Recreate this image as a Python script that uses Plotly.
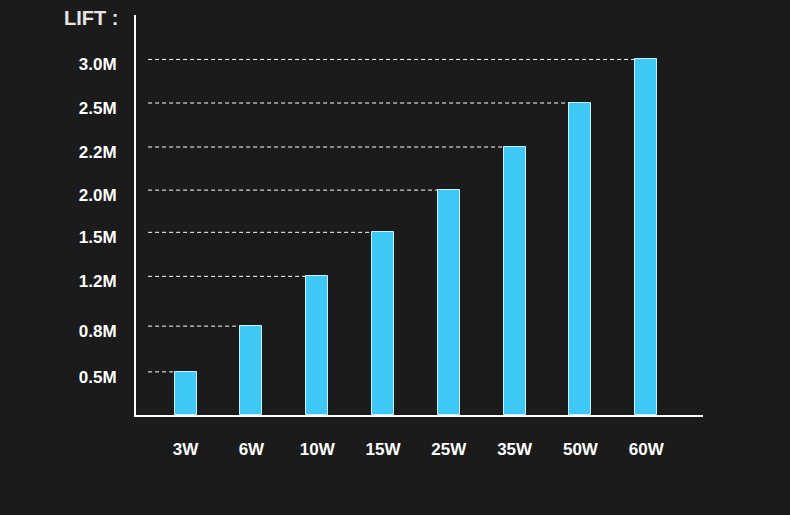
import plotly.graph_objects as go

# Data
power = ["3W", "6W", "10W", "15W", "25W", "35W", "50W", "60W"]
lift_labels = ["0.5M", "0.8M", "1.2M", "1.5M", "2.0M", "2.2M", "2.5M", "3.0M"]
# bar heights on the chart's (evenly stepped) lift scale
lift_level = [0.97, 2.0, 3.12, 4.11, 5.06, 6.03, 7.02, 8.0]

BG = "#1b1b1b"
BAR = "#3ec8f6"
BAR_W = 0.334
FONT = "Liberation Sans, Arial"

fig = go.Figure()
fig.add_trace(go.Bar(
    x=list(range(len(power))), y=lift_level, width=BAR_W,
    marker=dict(color=BAR, line=dict(color="#c8f2ff", width=1)),
    hoverinfo="skip",
))

# dashed guide lines from y-axis to the top of each bar
for i, h in enumerate(lift_level):
    fig.add_shape(type="line", xref="x", yref="y",
                  x0=-0.57, x1=i - BAR_W / 2, y0=h, y1=h,
                  line=dict(color="white", width=1, dash="4px,3px"))

fig.add_annotation(text="LIFT :", xref="paper", yref="paper", x=-0.0277, y=0.9925,
                   xanchor="right", yanchor="middle", showarrow=False,
                   font=dict(family=FONT, size=20, color="#e6e6e6", weight="bold"))

fig.update_layout(
    width=790, height=515,
    paper_bgcolor=BG, plot_bgcolor=BG,
    margin=dict(l=136, r=87, t=15, b=100),
    showlegend=False,
    bargap=0,
    xaxis=dict(
        range=[-0.754, 7.863],
        tickmode="array", tickvals=list(range(len(power))), ticktext=power,
        showgrid=False, zeroline=False, showline=True, linecolor="white", linewidth=2,
        ticks="", ticklabelstandoff=18,
        tickfont=dict(family=FONT, size=17, color="white", weight="bold"),
    ),
    yaxis=dict(
        range=[0, 9.0],
        tickmode="array", tickvals=lift_level, ticktext=lift_labels,
        showgrid=False, zeroline=False, showline=True, linecolor="white", linewidth=2,
        ticks="", ticklabelstandoff=14, ticklabelshift=5,
        tickfont=dict(family=FONT, size=17, color="white", weight="bold"),
    ),
)

fig.write_html(
    "out.html",
    config={"displayModeBar": False},
    post_script="document.body.style.margin='0';document.body.style.background='%s';" % BG,
)
